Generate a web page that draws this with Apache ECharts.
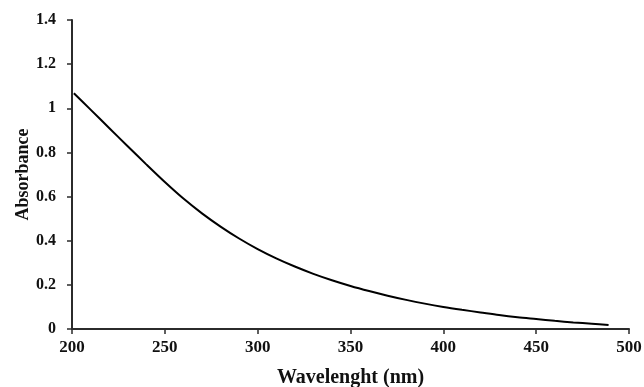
<!DOCTYPE html>
<html>
<head>
<meta charset="utf-8">
<script src="https://cdn.jsdelivr.net/npm/echarts@6/dist/echarts.min.js"></script>
<style>
  html, body { margin: 0; padding: 0; background: #fff; }
  #main { width: 644px; height: 387px; }
</style>
</head>
<body>
<div id="main"></div>
<script>
// wavelength (nm) and absorbance
const wavelength = [201, 210, 220, 230, 240, 250, 260, 270, 280, 290,
  300, 310, 320, 330, 340, 350, 360, 370, 380, 390,
  400, 410, 420, 430, 440, 450, 460, 470, 480, 489];
const absorbance = [1.068, 0.994, 0.911, 0.828, 0.746, 0.666, 0.591, 0.524, 0.464, 0.41,
  0.362, 0.32, 0.283, 0.25, 0.221, 0.195, 0.172, 0.151, 0.132, 0.115,
  0.1, 0.087, 0.075, 0.063, 0.053, 0.045, 0.037, 0.03, 0.024, 0.018];

const xTicks = { min: 200, max: 500, interval: 50 };
const yTicks = { min: 0, max: 1.4, interval: 0.2 };

const chart = echarts.init(document.getElementById('main'));
const font = 'Liberation Serif';
const axisColor = '#2b2b2b';

const option = {
  backgroundColor: '#fff',
  animation: false,
  grid: { left: 72, right: 15, top: 20, bottom: 58, containLabel: false, outerBoundsMode: 'none' },
  xAxis: {
    type: 'value',
    min: xTicks.min, max: xTicks.max, interval: xTicks.interval,
    name: 'Wavelenght (nm)',
    nameLocation: 'middle',
    nameGap: 39,
    nameMoveOverlap: false,
    nameTextStyle: { fontFamily: font, fontWeight: 'bold', fontSize: 20, color: '#111' },
    axisLine: { onZero: false, lineStyle: { color: axisColor, width: 2 } },
    axisTick: { show: true, length: 5, lineStyle: { color: axisColor, width: 1.5 } },
    axisLabel: { fontFamily: font, fontWeight: 'bold', fontSize: 17, color: '#111', margin: 10 },
    splitLine: { show: false }
  },
  yAxis: {
    type: 'value',
    min: yTicks.min, max: yTicks.max, interval: yTicks.interval,
    name: 'Absorbance',
    nameLocation: 'middle',
    nameGap: 40,
    nameMoveOverlap: false,
    nameTextStyle: { fontFamily: font, fontWeight: 'bold', fontSize: 18, color: '#111' },
    axisLine: { show: true, lineStyle: { color: axisColor, width: 2 } },
    axisTick: { show: true, length: 5, lineStyle: { color: axisColor, width: 1.5 } },
    axisLabel: {
      fontFamily: font, fontWeight: 'bold', fontSize: 16, color: '#111', margin: 16,
      formatter: v => String(Math.round(v * 10) / 10)
    },
    splitLine: { show: false }
  },
  series: [{
    type: 'line',
    data: wavelength.map((w, i) => [w, absorbance[i]]),
    smooth: 0.3,
    showSymbol: false,
    lineStyle: { color: '#000', width: 2 }
  }]
};

chart.setOption(option);
</script>
</body>
</html>
